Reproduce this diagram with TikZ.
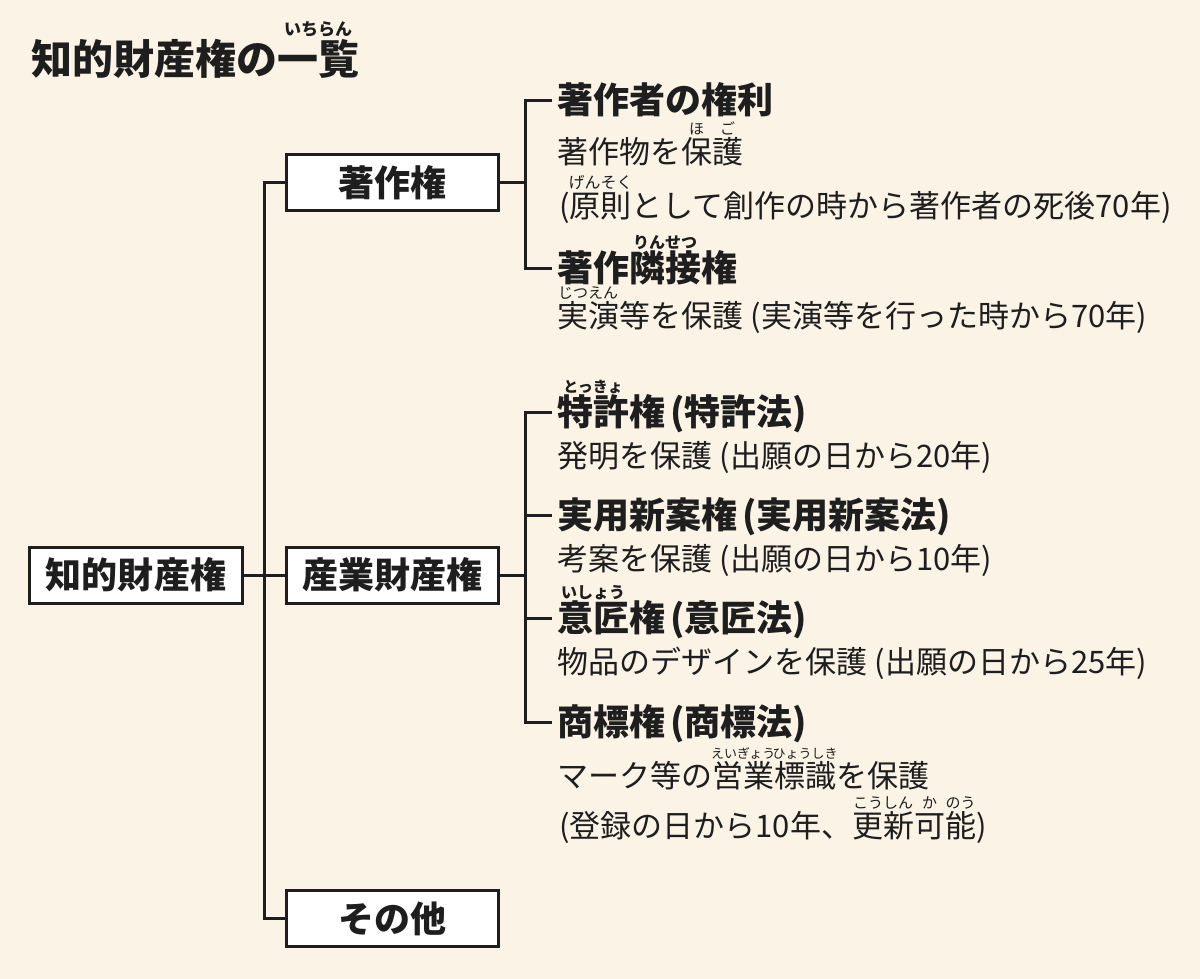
\documentclass[tikz,border=0pt]{standalone}
\usepackage{fontspec}
\setmainfont{Noto Sans CJK JP}
\definecolor{bg}{HTML}{FAF3E6}
\definecolor{ink}{HTML}{1E1E1E}
\newcommand\rb[3][15]{\leavevmode\setbox0\hbox{#2}\rlap{\raisebox{0.93em}[0pt][0pt]{\makebox[\wd0]{\fontsize{#1bp}{#1bp}\selectfont #3}}}\box0}
\newcommand\gp{\hspace{0.25em}}
\newcommand\hg{\hspace{0.15em}}
\tikzset{
  boxnode/.style={draw=ink, line width=3bp, fill=white, minimum width=212bp, minimum height=56bp, inner sep=0pt, text=ink, font=\fontsize{36bp}{40bp}\selectfont\bfseries},
  headtext/.style={anchor=base west, inner sep=0pt, text=ink, font=\fontsize{36bp}{40bp}\selectfont\bfseries},
  bodytext/.style={anchor=base west, inner sep=0pt, text=ink, font=\fontsize{31bp}{34bp}\selectfont},
  titletext/.style={anchor=base west, inner sep=0pt, text=ink, font=\fontsize{41bp}{44bp}\selectfont\bfseries},
  conn/.style={draw=ink, line width=3bp},
}
\begin{document}
\begin{tikzpicture}[x=1bp,y=-1bp]
\fill[bg] (0,0) rectangle (1200,979);
\useasboundingbox (0,0) rectangle (1200,979);

% title
\node[titletext] (title) at (31,74) {知的財産権の\rb[17]{一覧}{いちらん}};

% boxes
\node[boxnode] (root) at (136,575) {知的財産権};
\node[boxnode] (cr) at (392,182.5) {著作権};
\node[boxnode] (ip) at (392,575) {産業財産権};
\node[boxnode] (oth) at (392,918.5) {その他};

% copyright group
\node[headtext] (h1) at (557,113.7) {著作者の権利};
\node[bodytext] (b1) at (557,163.8) {著作物を\rb{保}{ほ}\rb{護}{ご}};
\node[bodytext] (b2) at (559,217.8) {(\rb[16]{原則}{げんそく}として創作の時から著作者の死後70年)};
\node[headtext] (h2) at (557,281.7) {著作\rb[16]{隣接}{りんせつ}権};
\node[bodytext] (b3) at (557,327.8) {\rb[15]{実演}{じつえん}等を保護\gp(実演等を行った時から70年)};

% industrial property group
\node[headtext] (p1) at (557,425.7) {\rb[15]{特許}{とっきょ}権\hg(特許法)};
\node[bodytext] (b4) at (557,467.8) {発明を保護\gp(出願の日から20年)};
\node[headtext] (p2) at (557,528.7) {実用新案権\hg(実用新案法)};
\node[bodytext] (b5) at (557,570.8) {考案を保護\gp(出願の日から10年)};
\node[headtext] (p3) at (557,631.7) {\rb[16]{意匠}{いしょう}権\hg(意匠法)};
\node[bodytext] (b6) at (557,673.8) {物品のデザインを保護\gp(出願の日から25年)};
\node[headtext] (p4) at (557,735.7) {商標権\hg(商標法)};
\node[bodytext] (b7) at (557,787.8) {マーク等の\rb[13]{営業}{えいぎょう}\rb[13]{標識}{ひょうしき}を保護};
\node[bodytext] (b8) at (559,837.8) {(登録の日から10年、\rb{更新}{こうしん}\rb{可}{か}\rb{能}{のう})};

% junctions
\coordinate (tk) at (264,575);
\coordinate (bA) at (525,182.5);
\coordinate (bB) at (525,575);
\coordinate (t1) at ([shift={(-5bp,13.7bp)}]h1.base west);
\coordinate (t2) at ([shift={(-5bp,13.7bp)}]h2.base west);
\coordinate (s1) at ([shift={(-5bp,13.7bp)}]p1.base west);
\coordinate (s2) at ([shift={(-5bp,13.7bp)}]p2.base west);
\coordinate (s3) at ([shift={(-5bp,13.7bp)}]p3.base west);
\coordinate (s4) at ([shift={(-5bp,13.7bp)}]p4.base west);

% connectors
\draw[conn] (root.east) -- (ip.west);
\draw[conn] (cr.west) -| (tk) |- (oth.west);
\draw[conn] (cr.east) -- (bA);
\draw[conn] (t1) -| (bA) |- (t2);
\draw[conn] (ip.east) -- (bB);
\draw[conn] (s1) -| (bB) |- (s4);
\draw[conn] (s2) -- (s2 -| bB);
\draw[conn] (s3) -- (s3 -| bB);
\end{tikzpicture}
\end{document}
